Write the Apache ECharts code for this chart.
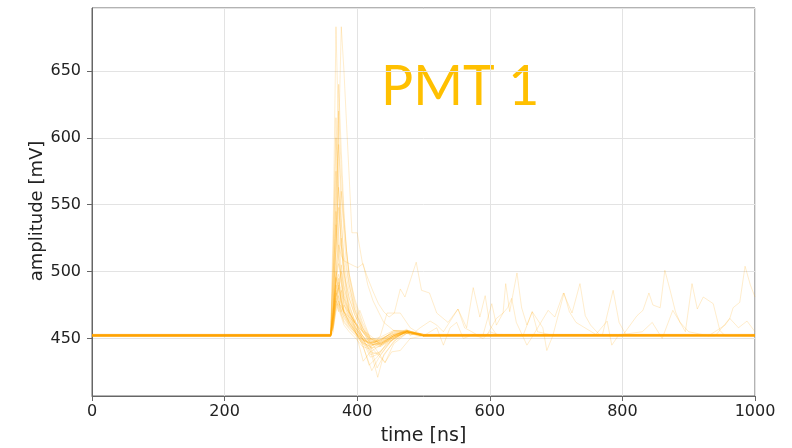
<!DOCTYPE html>
<html>
<head>
<meta charset="utf-8">
<script src="https://cdn.jsdelivr.net/npm/echarts@6/dist/echarts.min.js"></script>
<style>
  html, body { margin: 0; padding: 0; background: #fff; }
  #chart { width: 792px; height: 448px; }
</style>
</head>
<body>
<div id="chart"></div>
<script>
// waveforms: [time ns, amplitude mV]
const xTicks = [0, 200, 400, 600, 800, 1000];
const yRange = [407, 697];
const title = 'PMT 1';

// big pulses
const trace01 = [[0,452],[360,452],[364,540],[368,683],[372,600],[376,540],[380,505],[384,484],[388,470],[396,460],[408,450],[420,445],[435,447],[455,453],[475,455],[500,452],[1000,452]];
const trace02 = [[0,452],[360,452],[364,455],[368,500],[372,600],[376,683],[380,650],[384,610],[388,570],[392,529],[400,529],[408,506],[416,495],[424,485],[432,476],[440,470],[448,466],[456,469],[465,487],[472,481],[489,507],[497,486],[509,484],[520,469],[537,462],[552,472],[562,458],[580,453],[1000,452]];
const trace03 = [[0,452.5],[360,452.5],[364,480],[368,560],[372,640],[376,590],[380,545],[384,515],[388,495],[396,475],[408,458],[420,448],[435,445],[455,452],[475,456],[500,452.5],[1000,452.5]];
const trace04 = [[0,452],[360,452],[364,520],[368,615],[372,560],[376,520],[380,495],[388,476],[396,463],[408,450],[420,438],[435,440],[455,450],[475,455],[500,452],[1000,452]];
const trace05 = [[0,453],[360,453],[364,470],[368,520],[372,595],[376,560],[380,528],[384,505],[388,490],[396,472],[408,458],[420,447],[435,446],[455,452],[475,456],[500,453],[1000,453]];
const trace06 = [[0,452],[360,452],[364,500],[368,575],[372,530],[376,500],[380,485],[388,470],[396,462],[408,452],[420,444],[430,428],[440,437],[455,448],[475,454],[500,452],[1000,452]];
const trace07 = [[0,452],[360,452],[364,462],[368,490],[372,530],[376,560],[380,536],[384,515],[388,498],[396,480],[408,462],[420,450],[435,446],[455,452],[475,455],[500,452],[1000,452]];
const trace08 = [[0,452.5],[360,452.5],[364,480],[368,520],[372,548],[376,520],[380,500],[388,480],[396,468],[408,456],[420,449],[435,447],[455,452],[475,455],[500,452.5],[1000,452.5]];
const trace09 = [[0,452],[360,452],[364,500],[368,535],[372,510],[376,492],[380,480],[388,468],[396,459],[408,448],[420,436],[430,438],[445,446],[470,454],[500,452],[1000,452]];
const trace10 = [[0,453],[360,453],[364,468],[368,495],[372,510],[376,525],[380,506],[388,485],[396,470],[408,458],[420,450],[435,446],[455,451],[475,455],[500,453],[1000,453]];
const trace11 = [[0,452],[360,452],[364,478],[368,520],[372,563],[376,536],[380,512],[388,490],[396,472],[408,456],[420,446],[435,445],[455,451],[475,455],[500,452],[1000,452]];
const trace12 = [[0,452],[360,452],[364,470],[368,500],[372,520],[376,512],[380,508],[388,506],[396,504],[401,503],[409,506],[416,490],[424,478],[432,470],[440,462],[455,456],[475,455],[500,452],[1000,452]];
const trace13 = [[0,452.5],[360,452.5],[364,510],[368,600],[372,560],[376,520],[380,498],[388,480],[396,468],[408,455],[420,446],[435,444],[455,450],[475,455],[500,452.5],[1000,452.5]];
const trace14 = [[0,452],[360,452],[364,492],[368,545],[372,515],[376,495],[380,482],[388,470],[396,462],[408,452],[420,443],[435,444],[455,451],[475,455],[500,452],[1000,452]];
const trace15 = [[0,453],[360,453],[364,470],[368,540],[372,620],[376,575],[380,540],[384,515],[388,498],[396,478],[408,460],[420,449],[435,445],[455,451],[475,455],[500,453],[1000,453]];

// small pulses, some with late afterpulses
const trace16 = [[0,452],[360,452],[364,462],[368,478],[372,474],[376,468],[380,463],[388,458],[396,454],[408,448],[420,447],[435,450],[455,454],[475,455],[500,452],[590,453],[603,476],[610,460],[620,469],[624,491],[630,470],[641,499],[648,473],[656,460],[664,470],[672,455],[690,453],[1000,452]];
const trace17 = [[0,453],[360,453],[364,470],[368,490],[372,480],[376,470],[380,466],[388,460],[396,455],[408,449],[420,446],[435,449],[455,455],[475,456],[500,453],[1000,453]];
const trace18 = [[0,451.5],[360,451.5],[364,458],[368,472],[372,478],[376,472],[380,465],[388,459],[396,455],[408,447],[420,444],[435,448],[455,453],[475,455],[500,452],[595,452],[610,465],[620,469],[627,473],[633,480],[640,462],[656,445],[665,452],[688,471],[698,466],[711,484],[724,469],[736,491],[744,467],[752,460],[765,453],[1000,452]];
const trace19 = [[0,452.5],[360,452.5],[364,466],[368,485],[372,495],[376,480],[380,470],[388,462],[396,457],[408,450],[420,440],[435,438],[455,450],[475,456],[500,452.5],[1000,452.5]];
const trace20 = [[0,452],[360,452],[364,460],[368,476],[372,470],[376,486],[380,475],[388,465],[396,458],[408,452],[420,445],[435,446],[455,452],[475,457],[480,452],[495,458],[510,463],[520,460],[530,455],[552,472],[565,458],[575,488],[585,466],[593,482],[600,460],[610,453],[1000,452]];
const trace21 = [[0,453],[360,453],[364,472],[368,500],[372,492],[376,478],[380,470],[388,462],[396,456],[408,445],[422,426],[432,435],[450,448],[475,455],[500,453],[1000,453]];
const trace22 = [[0,452],[360,452],[364,468],[368,488],[372,498],[376,490],[380,478],[388,468],[396,460],[408,450],[420,441],[431,421],[440,438],[460,450],[480,455],[500,452],[1000,452]];
const trace23 = [[0,452.5],[360,452.5],[364,463],[368,482],[372,490],[376,482],[380,472],[388,464],[396,458],[409,433],[420,440],[435,445],[455,451],[475,455],[500,452],[520,458],[530,445],[540,458],[550,462],[560,450],[575,453],[590,450],[600,455],[612,453],[1000,452.5]];
const trace24 = [[0,451.5],[360,451.5],[364,465],[368,475],[372,485],[376,505],[380,490],[388,472],[396,462],[408,455],[420,448],[442,432],[452,440],[465,441],[480,450],[500,452],[1000,451.5]];
const trace25 = [[0,453],[360,453],[364,458],[368,470],[372,476],[376,474],[380,470],[388,466],[396,462],[404,471],[412,460],[420,450],[435,448],[455,453],[475,455],[500,453],[800,452],[822,467],[831,471],[840,484],[846,475],[857,473],[864,501],[872,486],[880,470],[887,462],[895,455],[905,491],[913,472],[922,481],[937,476],[947,456],[955,452],[1000,453]];
const trace26 = [[0,452],[360,452],[364,474],[368,495],[372,486],[376,476],[380,468],[388,461],[396,456],[408,446],[420,443],[435,452],[445,469],[465,469],[480,458],[500,452],[1000,452]];
const trace27 = [[0,452.5],[360,452.5],[364,461],[368,478],[372,488],[376,500],[380,488],[388,474],[396,464],[408,452],[420,447],[435,448],[455,456],[475,456],[500,452.5],[1000,452.5]];
const trace28 = [[0,452],[360,452],[364,466],[368,484],[372,476],[376,468],[380,462],[388,457],[396,453],[408,446],[418,430],[430,436],[445,447],[470,454],[500,452],[940,452],[962,465],[967,473],[977,477],[985,504],[993,490],[1000,481]];
const trace29 = [[0,453],[360,453],[364,459],[368,474],[372,482],[376,475],[380,468],[388,460],[396,455],[408,449],[420,449],[435,451],[455,456],[475,455],[500,453],[1000,453]];
const trace30 = [[0,452],[360,452],[364,470],[368,492],[372,506],[376,494],[380,480],[388,470],[396,462],[408,455],[420,450],[435,449],[455,453],[475,455],[500,452],[650,452],[664,470],[680,458],[686,441],[695,452],[712,484],[720,470],[730,462],[760,453],[777,463],[784,445],[795,453],[1000,452]];
const trace31 = [[0,451.5],[360,451.5],[364,462],[368,480],[372,472],[376,466],[380,460],[388,455],[396,451],[408,444],[420,442],[435,447],[455,452],[475,454],[500,451.5],[1000,451.5]];
const trace32 = [[0,452.5],[360,452.5],[364,468],[368,486],[372,478],[376,470],[380,475],[388,469],[396,463],[408,456],[420,452],[435,446],[455,452],[475,456],[500,452.5],[800,453],[830,455],[845,462],[860,450],[876,471],[887,462],[900,455],[930,452],[955,460],[962,465],[975,458],[988,463],[1000,455]];
const trace33 = [[0,452],[360,452],[364,464],[368,480],[372,492],[376,486],[380,476],[388,466],[396,459],[408,450],[420,446],[435,449],[455,455],[475,455],[500,452],[1000,452]];
const trace34 = [[0,453],[360,453],[364,466],[368,482],[372,488],[376,478],[380,470],[388,463],[396,457],[408,449],[420,447],[435,449],[455,454],[475,455],[500,453],[770,453],[786,486],[795,462],[805,453],[1000,453]];
const trace35 = [[0,452],[360,452],[364,472],[368,496],[372,488],[376,478],[380,470],[388,462],[396,456],[408,447],[420,444],[442,432],[455,446],[475,454],[500,452],[1000,452]];

const traces = [trace01, trace02, trace03, trace04, trace05, trace06, trace07, trace08, trace09, trace10,
  trace11, trace12, trace13, trace14, trace15, trace16, trace17, trace18, trace19, trace20,
  trace21, trace22, trace23, trace24, trace25, trace26, trace27, trace28, trace29, trace30,
  trace31, trace32, trace33, trace34, trace35];

const chart = echarts.init(document.getElementById('chart'), null, { renderer: 'canvas' });

const axisColor = '#666';
const textColor = '#222';
const font = 'DejaVu Sans';

chart.setOption({
  animation: false,
  backgroundColor: '#fff',
  grid: {
    left: 92, right: 37, top: 8, bottom: 52,
    outerBoundsMode: 'none',
    show: true, borderColor: axisColor, borderWidth: 1, backgroundColor: 'transparent'
  },
  xAxis: {
    type: 'value',
    min: xTicks[0],
    max: xTicks[xTicks.length - 1],
    interval: 200,
    name: 'time [ns]',
    nameLocation: 'middle',
    nameGap: 31,
    nameTextStyle: { fontFamily: font, fontSize: 19, color: textColor },
    axisLine: { show: true, lineStyle: { color: axisColor } },
    axisTick: { show: true, length: 5, lineStyle: { color: axisColor } },
    axisLabel: { fontFamily: font, fontSize: 16, color: textColor, margin: 8, formatter: v => String(v) },
    splitLine: { show: true, lineStyle: { color: '#e3e3e3', width: 1 } }
  },
  yAxis: {
    type: 'value',
    min: yRange[0],
    max: yRange[1],
    splitNumber: 6,
    axisLine: { show: true, lineStyle: { color: axisColor } },
    axisTick: { show: true, length: 5, lineStyle: { color: axisColor } },
    axisLabel: { fontFamily: font, fontSize: 16, color: textColor, margin: 11, showMinLabel: false, showMaxLabel: false },
    splitLine: { show: true, lineStyle: { color: '#e3e3e3', width: 1 } }
  },
  graphic: [{
    type: 'text',
    x: 381,
    y: 58,
    scaleX: 0.94,
    silent: true,
    style: { text: title, x: 0, y: 0, fontFamily: 'Lato', fontSize: 57, fill: '#FFC000' }
  }, {
    type: 'text',
    x: 37,
    y: 211,
    rotation: Math.PI / 2,
    silent: true,
    style: {
      text: 'amplitude [mV]', x: 0, y: 0, align: 'center', verticalAlign: 'middle',
      fontFamily: font, fontSize: 18, fill: textColor
    }
  }],
  series: traces.map((t, i) => ({
    type: 'line',
    name: 'trace' + (i + 1),
    data: t,
    showSymbol: false,
    silent: true,
    lineStyle: { color: 'rgba(255,165,0,0.2)', width: 1 }
  }))
});
</script>
</body>
</html>
